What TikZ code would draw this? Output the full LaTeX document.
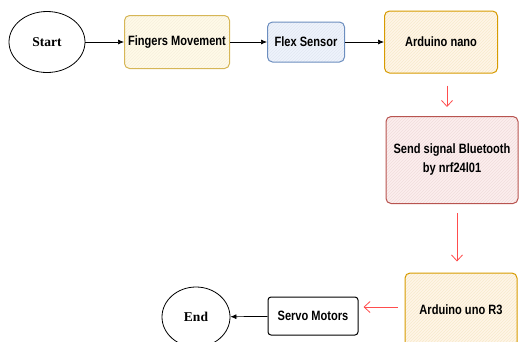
\documentclass[tikz,border=0pt]{standalone}
\usepackage{fontspec}
\setmainfont{Liberation Serif}
\newfontfamily\narrowsans[FakeStretch=0.82]{Liberation Sans}
\usetikzlibrary{arrows.meta,patterns,shapes.geometric}

\definecolor{yellowline}{HTML}{D6B656}
\definecolor{yellowfill}{HTML}{FFFAE8}
\definecolor{blueline}{HTML}{6C8EBF}
\definecolor{bluefill}{HTML}{EEF3FC}
\definecolor{orangeline}{HTML}{D79B00}
\definecolor{orangefill}{HTML}{FFF5E8}
\definecolor{redline}{HTML}{B85450}
\definecolor{redfill}{HTML}{FCEEEE}
\definecolor{arrowred}{HTML}{FF4D4D}

\tikzset{
  terminal/.style={ellipse, draw, line width=0.8pt, inner sep=0pt,
    font=\bfseries\fontsize{13.5}{15}\selectfont},
  block/.style={rectangle, rounded corners=5pt, draw, line width=1pt,
    align=center, inner sep=0pt,
    font=\narrowsans\bfseries\fontsize{13.5}{19}\selectfont},
  hatch/.style 2 args={block, draw=#1, preaction={fill=#2},
    pattern=north east lines, pattern color=#1!20},
  flow/.style={line width=0.7pt, -{Latex[length=6pt,width=5pt]}},
  redflow/.style={arrowred, line width=0.8pt,
    -{Straight Barb[length=6pt,width=11pt]}}
}

\begin{document}
\begin{tikzpicture}[x=1pt, y=-1pt]
  \useasboundingbox (0,0) rectangle (519,341);

  % Top row
  \node[terminal, minimum width=76pt, minimum height=61pt] (start) at (47,42) {Start};
  \node[hatch={yellowline}{yellowfill}, minimum width=105pt, minimum height=53pt] (fingers) at (177,42) {Fingers Movement};
  \node[hatch={blueline}{bluefill}, minimum width=77pt, minimum height=40pt] (flex) at (306,42) {Flex Sensor};
  \node[hatch={orangeline}{orangefill}, minimum width=113pt, minimum height=62pt] (nano) at (441,42) {Arduino nano};

  % Right column
  \node[hatch={redline}{redfill}, minimum width=132pt, minimum height=87pt] (send) at (452,160) {Send signal Bluetooth\\by nrf24l01};
  \node[hatch={orangeline}{orangefill}, minimum width=112pt, minimum height=74pt] (uno) at (461,310) {Arduino uno R3};

  % Bottom row
  \node[block, draw=black, rounded corners=3pt, minimum width=90pt, minimum height=38pt] (servo) at (313,316) {Servo Motors};
  \node[terminal, minimum width=68pt, minimum height=60pt] (end) at (196,317) {End};

  % Connectors
  \draw[flow] (start) -- (fingers);
  \draw[flow] (fingers) -- (flex);
  \draw[flow] (flex) -- (nano);
  \draw[redflow, shorten <=12pt, shorten >=9pt] ([xshift=6pt]nano.south) -- ([xshift=6pt]nano.south |- send.north);
  \draw[redflow, shorten <=9pt, shorten >=11pt] ([xshift=5pt]send.south) -- ([xshift=5pt]send.south |- uno.north);
  \draw[redflow, shorten <=7pt, shorten >=5pt] ([yshift=3pt]uno.west) -- ([yshift=3pt]uno.west -| servo.east);
  \draw[flow] (servo) -- (end);
\end{tikzpicture}
\end{document}
